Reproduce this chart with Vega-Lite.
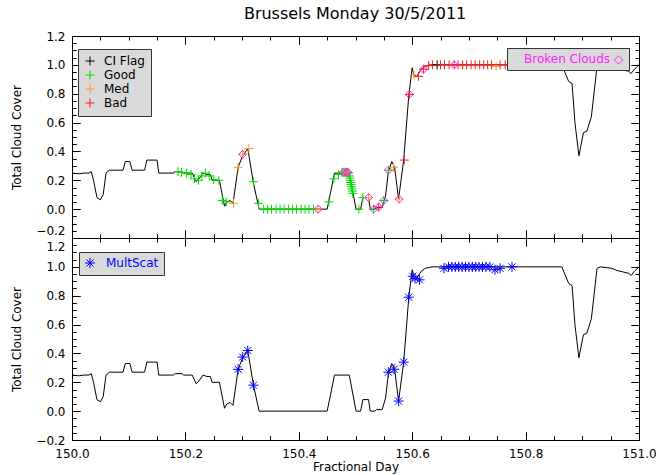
{
  "$schema": "https://vega.github.io/schema/vega-lite/v6.json",
  "padding": {"left": 9, "top": 5, "right": 5, "bottom": 5},
  "bounds": "flush",
  "title": {"text": "Brussels Monday 30/5/2011", "font": "DejaVu Sans", "fontSize": 16, "fontWeight": "normal", "color": "black", "anchor": "middle", "offset": 8, "dx": 22},
  "config": {
    "font": "DejaVu Sans",
    "view": {"stroke": "black", "strokeWidth": 1, "fill": null},
    "axis": {"grid": false, "ticks": true, "tickOpacity": 1, "domain": false, "tickColor": "#000000", "gridColor": "#000000", "gridOpacity": 1, "gridWidth": 1, "labelColor": "black", "labelFont": "DejaVu Sans", "labelFontSize": 12, "titleFont": "DejaVu Sans", "titleFontSize": 12, "titleFontWeight": "normal", "titleColor": "black", "labelOverlap": false, "labelFlush": false, "labelBound": false, "tickWidth": 1}
  },
  "datasets": {
    "line": [
      {"day": 150.000, "cc": 0.25}, {"day": 150.012, "cc": 0.245}, {"day": 150.022, "cc": 0.25}, {"day": 150.030, "cc": 0.25},
      {"day": 150.034, "cc": 0.26}, {"day": 150.038, "cc": 0.2}, {"day": 150.044, "cc": 0.08}, {"day": 150.050, "cc": 0.065},
      {"day": 150.055, "cc": 0.1}, {"day": 150.060, "cc": 0.25}, {"day": 150.066, "cc": 0.27}, {"day": 150.090, "cc": 0.27},
      {"day": 150.094, "cc": 0.33}, {"day": 150.102, "cc": 0.33}, {"day": 150.106, "cc": 0.27}, {"day": 150.128, "cc": 0.27},
      {"day": 150.132, "cc": 0.34}, {"day": 150.150, "cc": 0.34}, {"day": 150.153, "cc": 0.25}, {"day": 150.179, "cc": 0.25},
      {"day": 150.182, "cc": 0.26}, {"day": 150.194, "cc": 0.26}, {"day": 150.197, "cc": 0.25}, {"day": 150.212, "cc": 0.25},
      {"day": 150.219, "cc": 0.19}, {"day": 150.224, "cc": 0.21}, {"day": 150.231, "cc": 0.25}, {"day": 150.238, "cc": 0.24},
      {"day": 150.244, "cc": 0.24}, {"day": 150.247, "cc": 0.2}, {"day": 150.260, "cc": 0.2}, {"day": 150.269, "cc": 0.02},
      {"day": 150.273, "cc": 0.05}, {"day": 150.279, "cc": 0.06}, {"day": 150.284, "cc": 0.04}, {"day": 150.293, "cc": 0.29},
      {"day": 150.301, "cc": 0.37}, {"day": 150.310, "cc": 0.42}, {"day": 150.320, "cc": 0.18}, {"day": 150.330, "cc": 0.0},
      {"day": 150.450, "cc": 0.0}, {"day": 150.463, "cc": 0.25}, {"day": 150.489, "cc": 0.25}, {"day": 150.501, "cc": 0.0},
      {"day": 150.509, "cc": 0.0}, {"day": 150.513, "cc": 0.08}, {"day": 150.523, "cc": 0.08}, {"day": 150.526, "cc": 0.0},
      {"day": 150.534, "cc": 0.0}, {"day": 150.537, "cc": 0.01}, {"day": 150.547, "cc": 0.01}, {"day": 150.553, "cc": 0.09},
      {"day": 150.558, "cc": 0.26}, {"day": 150.564, "cc": 0.33}, {"day": 150.569, "cc": 0.29}, {"day": 150.576, "cc": 0.07},
      {"day": 150.585, "cc": 0.34}, {"day": 150.594, "cc": 0.79}, {"day": 150.600, "cc": 0.98}, {"day": 150.603, "cc": 0.93},
      {"day": 150.608, "cc": 0.92}, {"day": 150.616, "cc": 0.97}, {"day": 150.623, "cc": 0.99}, {"day": 150.635, "cc": 1.0},
      {"day": 150.864, "cc": 1.0}, {"day": 150.867, "cc": 0.97}, {"day": 150.876, "cc": 0.885}, {"day": 150.882, "cc": 0.87},
      {"day": 150.887, "cc": 0.6}, {"day": 150.894, "cc": 0.37}, {"day": 150.902, "cc": 0.53}, {"day": 150.908, "cc": 0.54},
      {"day": 150.916, "cc": 0.64}, {"day": 150.926, "cc": 0.99}, {"day": 150.932, "cc": 1.0}, {"day": 150.952, "cc": 0.99},
      {"day": 150.961, "cc": 0.975}, {"day": 150.982, "cc": 0.955}, {"day": 150.986, "cc": 0.94}, {"day": 150.992, "cc": 0.97},
      {"day": 151.000, "cc": 1.0}
    ],
    "flags": [
      {"day": 150.187, "cc": 0.26, "flag": "Good"}, {"day": 150.193, "cc": 0.255, "flag": "Good"}, {"day": 150.202, "cc": 0.25, "flag": "Good"},
      {"day": 150.210, "cc": 0.24, "flag": "Good"}, {"day": 150.216, "cc": 0.21, "flag": "Good"}, {"day": 150.223, "cc": 0.2, "flag": "Good"},
      {"day": 150.229, "cc": 0.23, "flag": "Good"}, {"day": 150.235, "cc": 0.25, "flag": "Good"}, {"day": 150.242, "cc": 0.23, "flag": "Good"},
      {"day": 150.250, "cc": 0.205, "flag": "Good"}, {"day": 150.259, "cc": 0.2, "flag": "Good"}, {"day": 150.265, "cc": 0.06, "flag": "Good"},
      {"day": 150.272, "cc": 0.05, "flag": "Good"}, {"day": 150.285, "cc": 0.04, "flag": "Med"}, {"day": 150.293, "cc": 0.29, "flag": "Med"},
      {"day": 150.301, "cc": 0.38, "flag": "Med"}, {"day": 150.312, "cc": 0.42, "flag": "Med"}, {"day": 150.320, "cc": 0.19, "flag": "Good"},
      {"day": 150.329, "cc": 0.04, "flag": "Good"},
      {"day": 150.338, "cc": 0.0, "flag": "Good"}, {"day": 150.345, "cc": 0.0, "flag": "Good"}, {"day": 150.352, "cc": 0.0, "flag": "Good"},
      {"day": 150.360, "cc": 0.0, "flag": "Good"}, {"day": 150.367, "cc": 0.0, "flag": "Good"}, {"day": 150.374, "cc": 0.0, "flag": "Good"},
      {"day": 150.382, "cc": 0.0, "flag": "Good"}, {"day": 150.389, "cc": 0.0, "flag": "Good"}, {"day": 150.396, "cc": 0.0, "flag": "Good"},
      {"day": 150.404, "cc": 0.0, "flag": "Good"}, {"day": 150.411, "cc": 0.0, "flag": "Good"}, {"day": 150.418, "cc": 0.0, "flag": "Good"},
      {"day": 150.426, "cc": 0.0, "flag": "Good"}, {"day": 150.434, "cc": 0.0, "flag": "Med"},
      {"day": 150.453, "cc": 0.05, "flag": "Good"}, {"day": 150.462, "cc": 0.21, "flag": "Good"}, {"day": 150.470, "cc": 0.24, "flag": "Good"},
      {"day": 150.476, "cc": 0.255, "flag": "Good"}, {"day": 150.478, "cc": 0.255, "flag": "Good"}, {"day": 150.480, "cc": 0.255, "flag": "Good"},
      {"day": 150.482, "cc": 0.255, "flag": "Good"}, {"day": 150.484, "cc": 0.255, "flag": "Good"}, {"day": 150.486, "cc": 0.255, "flag": "Good"},
      {"day": 150.488, "cc": 0.25, "flag": "Good"}, {"day": 150.481, "cc": 0.255, "flag": "Med"}, {"day": 150.485, "cc": 0.255, "flag": "Med"},
      {"day": 150.4895, "cc": 0.23, "flag": "Good"}, {"day": 150.490, "cc": 0.215, "flag": "Good"}, {"day": 150.4907, "cc": 0.2, "flag": "Good"},
      {"day": 150.4915, "cc": 0.185, "flag": "Good"}, {"day": 150.4922, "cc": 0.17, "flag": "Good"}, {"day": 150.493, "cc": 0.155, "flag": "Good"},
      {"day": 150.4937, "cc": 0.14, "flag": "Good"}, {"day": 150.4945, "cc": 0.125, "flag": "Good"}, {"day": 150.4952, "cc": 0.11, "flag": "Good"},
      {"day": 150.506, "cc": 0.0, "flag": "Good"}, {"day": 150.513, "cc": 0.08, "flag": "Good"}, {"day": 150.523, "cc": 0.08, "flag": "Med"},
      {"day": 150.532, "cc": 0.0, "flag": "Good"}, {"day": 150.541, "cc": 0.015, "flag": "Bad"}, {"day": 150.550, "cc": 0.06, "flag": "Good"},
      {"day": 150.558, "cc": 0.27, "flag": "Good"}, {"day": 150.567, "cc": 0.29, "flag": "Med"}, {"day": 150.577, "cc": 0.07, "flag": "Med"},
      {"day": 150.586, "cc": 0.34, "flag": "Bad"}, {"day": 150.595, "cc": 0.795, "flag": "Bad"}, {"day": 150.603, "cc": 0.93, "flag": "Med"},
      {"day": 150.611, "cc": 0.92, "flag": "Bad"}, {"day": 150.620, "cc": 0.97, "flag": "Bad"}, {"day": 150.629, "cc": 0.995, "flag": "Bad"},
      {"day": 150.636, "cc": 1.0, "flag": "Bad"}, {"day": 150.644, "cc": 1.0, "flag": "CI Flag"}, {"day": 150.650, "cc": 1.0, "flag": "Bad"},
      {"day": 150.657, "cc": 1.0, "flag": "Bad"}, {"day": 150.665, "cc": 1.0, "flag": "Bad"}, {"day": 150.674, "cc": 1.0, "flag": "Bad"},
      {"day": 150.681, "cc": 1.0, "flag": "Bad"}, {"day": 150.689, "cc": 1.0, "flag": "Bad"}, {"day": 150.696, "cc": 1.0, "flag": "Bad"},
      {"day": 150.704, "cc": 1.0, "flag": "Bad"}, {"day": 150.711, "cc": 1.0, "flag": "Bad"}, {"day": 150.719, "cc": 1.0, "flag": "Bad"},
      {"day": 150.726, "cc": 1.0, "flag": "Bad"}, {"day": 150.733, "cc": 1.0, "flag": "Bad"}, {"day": 150.740, "cc": 1.0, "flag": "Bad"},
      {"day": 150.748, "cc": 0.99, "flag": "Med"}, {"day": 150.755, "cc": 1.0, "flag": "Bad"}, {"day": 150.764, "cc": 1.0, "flag": "Bad"}
    ],
    "broken": [
      {"day": 150.301, "cc": 0.38}, {"day": 150.434, "cc": 0.0}, {"day": 150.479, "cc": 0.255}, {"day": 150.484, "cc": 0.255},
      {"day": 150.487, "cc": 0.255}, {"day": 150.523, "cc": 0.08}, {"day": 150.532, "cc": 0.0}, {"day": 150.541, "cc": 0.015},
      {"day": 150.550, "cc": 0.06}, {"day": 150.558, "cc": 0.27}, {"day": 150.577, "cc": 0.07}, {"day": 150.595, "cc": 0.795},
      {"day": 150.620, "cc": 0.97}, {"day": 150.674, "cc": 1.0}
    ],
    "mult": [
      {"day": 150.293, "cc": 0.29}, {"day": 150.301, "cc": 0.375}, {"day": 150.310, "cc": 0.42}, {"day": 150.320, "cc": 0.18},
      {"day": 150.558, "cc": 0.27}, {"day": 150.568, "cc": 0.29}, {"day": 150.576, "cc": 0.07}, {"day": 150.585, "cc": 0.34},
      {"day": 150.594, "cc": 0.79}, {"day": 150.601, "cc": 0.935}, {"day": 150.605, "cc": 0.92}, {"day": 150.613, "cc": 0.91},
      {"day": 150.656, "cc": 0.99}, {"day": 150.664, "cc": 1.0}, {"day": 150.670, "cc": 1.0}, {"day": 150.676, "cc": 1.0},
      {"day": 150.682, "cc": 1.0}, {"day": 150.688, "cc": 1.0}, {"day": 150.694, "cc": 1.0}, {"day": 150.700, "cc": 1.0},
      {"day": 150.706, "cc": 1.0}, {"day": 150.712, "cc": 1.0}, {"day": 150.718, "cc": 1.0}, {"day": 150.724, "cc": 1.0},
      {"day": 150.730, "cc": 1.0}, {"day": 150.737, "cc": 1.0}, {"day": 150.746, "cc": 0.98}, {"day": 150.755, "cc": 0.99},
      {"day": 150.776, "cc": 1.0}
    ]
  },
  "spacing": 0,
  "resolve": {"scale": {"shape": "independent", "color": "independent"}, "legend": {"shape": "independent", "color": "independent"}},
  "vconcat": [
    {
      "width": 567, "height": 202,
      "resolve": {"axis": {"x": "independent", "y": "independent"}},
      "layer": [
        {
          "data": {"name": "line"},
          "mark": {"type": "line", "color": "black", "strokeWidth": 1},
          "encoding": {
            "x": {"field": "day", "type": "quantitative", "scale": {"domain": [150, 151], "nice": false, "zero": false},
              "axis": {"orient": "bottom", "title": null, "labels": false, "zindex": 2, "offset": -8, "tickSize": 8, "values": [150.2,150.4,150.6,150.8],
                "grid": true, "gridDash": [8, 186]}},
            "y": {"field": "cc", "type": "quantitative", "scale": {"domain": [-0.2, 1.2], "nice": false, "zero": false},
              "axis": {"orient": "left", "title": "Total Cloud Cover", "titlePadding": 17, "minExtent": 40, "maxExtent": 40, "labelPadding": 7, "zindex": 2, "offset": -8, "tickSize": 8,
                "values": [0,0.2,0.4,0.6,0.8,1,1.2], "format": ".1f", "grid": true, "gridDash": [8, 551]}}
          }
        },
        {
          "data": {"name": "flags"},
          "mark": {"type": "point", "shape": "M-1,0L1,0M0,-1L0,1", "filled": false, "size": 81, "strokeWidth": 1, "opacity": 1},
          "encoding": {
            "x": {"field": "day", "type": "quantitative",
              "axis": {"orient": "top", "title": null, "labels": false, "zindex": 2, "offset": -8, "tickSize": 8, "values": [150,150.2,150.4,150.6,150.8,151]}},
            "y": {"field": "cc", "type": "quantitative",
              "axis": {"orient": "right", "title": null, "labels": false, "zindex": 2, "offset": -8, "tickSize": 8, "values": [-0.2,0,0.2,0.4,0.6,0.8,1,1.2]}},
            "color": {"field": "flag", "type": "nominal",
              "scale": {"domain": ["CI Flag", "Good", "Med", "Bad"], "range": ["#000000", "#00dd00", "#ff9922", "#ff1a1a"]},
              "legend": {"title": null, "orient": "none", "legendX": 6, "legendY": 13, "fillColor": "#d9d9d9", "strokeColor": "#333333",
                "padding": 6, "rowPadding": 0, "labelFont": "DejaVu Sans", "labelFontSize": 12, "symbolSize": 81, "symbolStrokeWidth": 1,
                "labelOffset": 8, "zindex": 3,
                "encode": {"labels": {"update": {"fill": {"signal": "datum.value === 'Good' ? '#00dd00' : datum.value === 'Med' ? '#ff9922' : datum.value === 'Bad' ? '#ff1a1a' : '#000000'"}}}}}}
          }
        },
        {
          "data": {"name": "broken"},
          "mark": {"type": "point", "filled": false, "size": 64, "strokeWidth": 1, "color": "#ff22ff", "opacity": 1},
          "encoding": {
            "x": {"field": "day", "type": "quantitative",
              "axis": {"orient": "bottom", "title": null, "labels": false, "zindex": 2, "offset": -4, "tickSize": 4, "grid": true, "gridDash": [4, 194],
                "values": [150.05,150.1,150.15,150.25,150.3,150.35,150.45,150.5,150.55,150.65,150.7,150.75,150.85,150.9,150.95]}},
            "y": {"field": "cc", "type": "quantitative",
              "axis": {"orient": "left", "title": null, "labels": false, "zindex": 2, "offset": -4, "tickSize": 4, "grid": true, "gridDash": [4, 559],
                "values": [-0.15,-0.1,-0.05,0.05,0.1,0.15,0.25,0.3,0.35,0.45,0.5,0.55,0.65,0.7,0.75,0.85,0.9,0.95,1.05,1.1,1.15]}},
            "shape": {"datum": "Broken Clouds", "scale": {"range": ["diamond"]},
              "legend": {"title": null, "orient": "none", "legendX": 435, "legendY": 12, "fillColor": "#d9d9d9", "strokeColor": "#333333",
                "padding": 5, "labelFont": "DejaVu Sans", "labelFontSize": 12, "labelColor": "#ff22ff", "symbolOpacity": 0, "symbolSize": 1, "labelOffset": 0, "zindex": 3,
                "labelExpr": "datum.label + ' \u25c7'"}}
          }
        },
        {
          "data": {"name": "line"},
          "mark": {"type": "line", "opacity": 0},
          "encoding": {
            "x": {"field": "day", "type": "quantitative", "axis": null},
            "y": {"field": "cc", "type": "quantitative",
              "axis": {"orient": "left", "title": null, "ticks": false, "labelPadding": 7, "labelOffset": -8,
                "values": [-0.2], "format": ".1f"}}
          }
        }
      ]
    },
    {
      "width": 567, "height": 202,
      "resolve": {"axis": {"x": "independent", "y": "independent"}},
      "layer": [
        {
          "data": {"name": "line"},
          "mark": {"type": "line", "color": "black", "strokeWidth": 1},
          "encoding": {
            "x": {"field": "day", "type": "quantitative", "scale": {"domain": [150, 151], "nice": false, "zero": false},
              "axis": {"orient": "bottom", "title": "Fractional Day", "titlePadding": 2, "labelPadding": 8, "zindex": 2, "offset": -8, "tickSize": 8,
                "values": [150,150.2,150.4,150.6,150.8,151], "format": ".1f", "grid": true, "gridDash": [8, 186]}},
            "y": {"field": "cc", "type": "quantitative", "scale": {"domain": [-0.2, 1.2], "nice": false, "zero": false},
              "axis": {"orient": "left", "title": "Total Cloud Cover", "titlePadding": 17, "minExtent": 40, "maxExtent": 40, "labelPadding": 7, "zindex": 2, "offset": -8, "tickSize": 8,
                "values": [-0.2,0,0.2,0.4,0.6,0.8,1], "format": ".1f", "grid": true, "gridDash": [8, 551]}}
          }
        },
        {
          "data": {"name": "mult"},
          "mark": {"type": "point", "filled": false, "size": 100, "strokeWidth": 1, "color": "#0000ff", "opacity": 1},
          "encoding": {
            "x": {"field": "day", "type": "quantitative",
              "axis": {"orient": "top", "title": null, "labels": false, "zindex": 2, "offset": -8, "tickSize": 8, "values": [150,150.2,150.4,150.6,150.8,151]}},
            "y": {"field": "cc", "type": "quantitative",
              "axis": {"orient": "right", "title": null, "labels": false, "zindex": 2, "offset": -8, "tickSize": 8, "values": [-0.2,0,0.2,0.4,0.6,0.8,1,1.2]}},
            "shape": {"datum": "MultScat", "scale": {"range": ["M-1,0L1,0M0,-1L0,1M-0.7,-0.7L0.7,0.7M-0.7,0.7L0.7,-0.7"]},
              "legend": {"title": null, "orient": "none", "legendX": 7, "legendY": 14, "fillColor": "#d9d9d9", "strokeColor": "#333333",
                "padding": 5, "labelFont": "DejaVu Sans", "labelFontSize": 12, "labelColor": "#0000ff", "symbolSize": 100, "zindex": 3,
                "symbolStrokeColor": "#0000ff", "symbolStrokeWidth": 1, "symbolFillColor": "transparent", "labelOffset": 10}}
          }
        },
        {
          "data": {"name": "line"},
          "mark": {"type": "line", "opacity": 0},
          "encoding": {
            "x": {"field": "day", "type": "quantitative",
              "axis": {"orient": "bottom", "title": null, "labels": false, "zindex": 2, "offset": -4, "tickSize": 4, "grid": true, "gridDash": [4, 194],
                "values": [150.05,150.1,150.15,150.25,150.3,150.35,150.45,150.5,150.55,150.65,150.7,150.75,150.85,150.9,150.95]}},
            "y": {"field": "cc", "type": "quantitative",
              "axis": {"orient": "left", "title": null, "labels": false, "zindex": 2, "offset": -4, "tickSize": 4, "grid": true, "gridDash": [4, 559],
                "values": [-0.15,-0.1,-0.05,0.05,0.1,0.15,0.25,0.3,0.35,0.45,0.5,0.55,0.65,0.7,0.75,0.85,0.9,0.95,1.05,1.1,1.15]}}
          }
        },
        {
          "data": {"name": "line"},
          "mark": {"type": "line", "opacity": 0},
          "encoding": {
            "x": {"field": "day", "type": "quantitative", "axis": null},
            "y": {"field": "cc", "type": "quantitative",
              "axis": {"orient": "left", "title": null, "ticks": false, "labelPadding": 7, "labelOffset": 8,
                "values": [1.2], "format": ".1f"}}
          }
        }
      ]
    }
  ]
}
